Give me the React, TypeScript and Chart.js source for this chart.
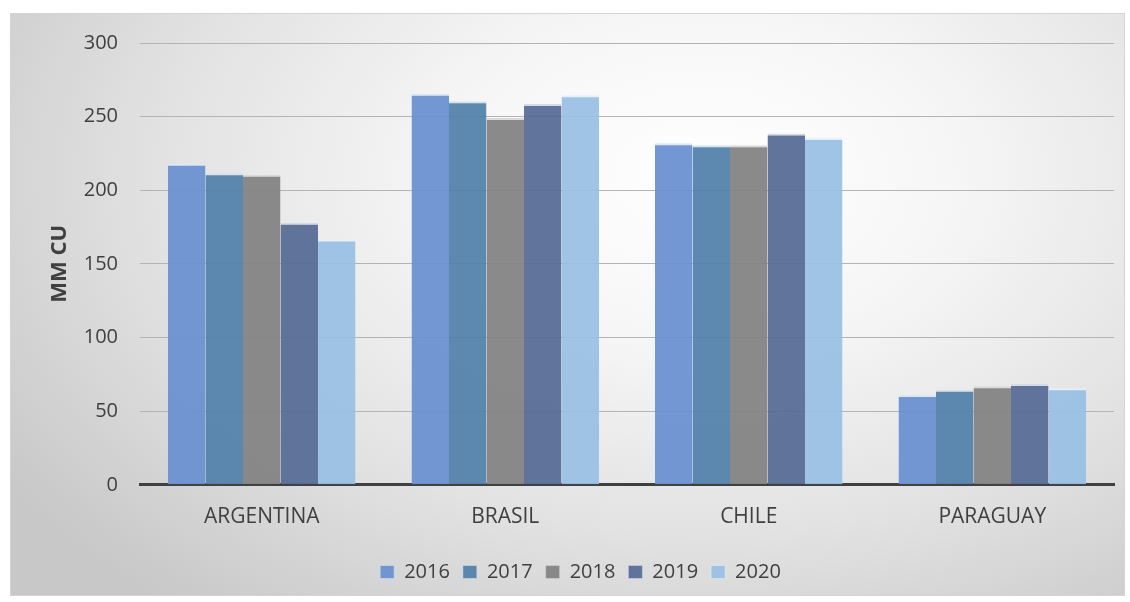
import React, { useEffect, useRef } from "react";
import { Chart, registerables } from "chart.js";

Chart.register(...registerables);

const categories = ["ARGENTINA", "BRASIL", "CHILE", "PARAGUAY"];
const years = ["2016", "2017", "2018", "2019", "2020"];
const values2016 = [218, 265.5, 232, 61];
const values2017 = [211.5, 260.5, 230.5, 64.5];
const values2018 = [210.5, 249, 230.5, 67];
const values2019 = [178, 258.5, 238.5, 68.5];
const values2020 = [166.5, 264.5, 235.5, 65.5];
const yTicks = [0, 50, 100, 150, 200, 250, 300];

const seriesValues = [values2016, values2017, values2018, values2019, values2020];
const colors = ["rgba(107,145,209,0.95)", "rgba(84,131,173,0.95)", "rgba(132,132,132,0.95)", "rgba(88,109,151,0.95)", "rgba(152,192,228,0.93)"];
const capColors = ["#dce6f4", "#d7e2ec", "#dadada", "#d5dbe6", "#e6f0fa"];

const FONT = "'Open Sans', 'Noto Sans', sans-serif";

export default function App() {
  const ref = useRef<HTMLCanvasElement | null>(null);
  useEffect(() => {
    if (!ref.current) return;
    const chart = new Chart(ref.current, {
      type: "bar",
      data: {
        labels: categories,
        datasets: years.map((y, i) => ({
          label: y,
          data: seriesValues[i],
          backgroundColor: colors[i],
          borderColor: capColors[i],
          borderWidth: { top: 2, left: 0, right: 0, bottom: 0 },
          borderSkipped: "bottom",
          barPercentage: 1,
          categoryPercentage: 0.77,
        })),
      },
      options: {
        animation: false,
        responsive: true,
        maintainAspectRatio: false,
        layout: { padding: { left: 36, right: 10, top: 0, bottom: 3 } },
        plugins: {
          legend: {
            position: "bottom",
            labels: {
              boxWidth: 14,
              boxHeight: 13,
              padding: 13,
              color: "#404040",
              font: { family: FONT, size: 20 },
            },
          },
          tooltip: { enabled: false },
        },
        scales: {
          x: {
            grid: { display: false, drawTicks: false },
            border: { display: true, color: "#404040", width: 3 },
            ticks: { color: "#404040", font: { family: FONT, size: 21 }, padding: 19.5 },
          },
          y: {
            min: 0,
            max: 300,
            afterBuildTicks: (axis: any) => {
              axis.ticks = yTicks.map((v) => ({ value: v }));
            },
            afterFit: (axis: any) => {
              axis.width = 93;
              axis.paddingTop = 29;
            },
            grid: { color: "#b4b4b4", lineWidth: 1, drawTicks: false },
            border: { display: false },
            ticks: { color: "#404040", font: { family: FONT, size: 20 }, padding: 22 },
            title: {
              display: true,
              text: "MM CU",
              color: "#404040",
              font: { family: FONT, size: 22, weight: "bold" },
              padding: { top: 0, bottom: 10 },
            },
          },
        },
      },
    });
    return () => chart.destroy();
  }, []);
  return (
    <div
      style={{
        position: "absolute",
        left: 10,
        top: 13,
        width: 1113,
        height: 581,
        border: "1px solid #d4d4d4",
        background:
          "radial-gradient(ellipse 75% 95% at 62% 28%, #ffffff 0%, #f6f6f6 30%, #e2e2e2 65%, #c8c8c8 100%)",
      }}
    >
      <canvas ref={ref} />
    </div>
  );
}
